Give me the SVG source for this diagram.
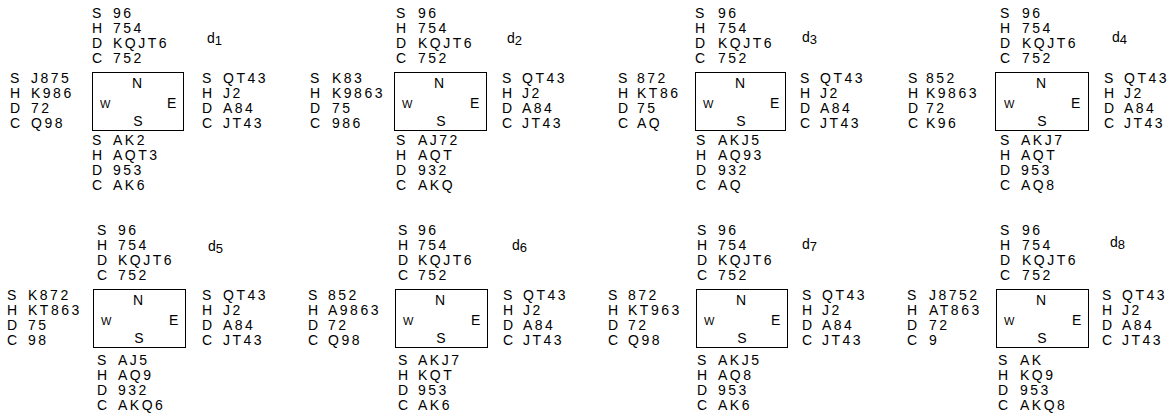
<svg xmlns="http://www.w3.org/2000/svg" width="1172" height="417" viewBox="0 0 1172 417">
<style>
.t{font-family:"Liberation Sans",Arial,sans-serif;font-size:14px;letter-spacing:2.5px;fill:#000}
.b{fill:none;stroke:#000;stroke-width:1}
.n{font-family:"Liberation Sans",Arial,sans-serif;font-size:14px;fill:#000;text-anchor:middle}
.w{font-family:"Liberation Sans",Arial,sans-serif;font-size:11px;fill:#000}
.e{font-family:"Liberation Sans",Arial,sans-serif;font-size:14px;fill:#000}
.l{font-family:"Liberation Sans",Arial,sans-serif;font-size:14px;fill:#000}
.s{font-size:13px}
</style>
<rect width="1172" height="417" fill="#fff"/>

<!-- d1 -->
<g id="d1">
<g id="d1-north" class="t">
<text y="18"><tspan x="92">S</tspan><tspan x="113">96</tspan></text>
<text y="33"><tspan x="92">H</tspan><tspan x="113">754</tspan></text>
<text y="48"><tspan x="92">D</tspan><tspan x="113">KQJT6</tspan></text>
<text y="63"><tspan x="92">C</tspan><tspan x="113">752</tspan></text>
</g>
<g id="d1-west" class="t">
<text y="83"><tspan x="10">S</tspan><tspan x="31">J875</tspan></text>
<text y="98"><tspan x="10">H</tspan><tspan x="31">K986</tspan></text>
<text y="113"><tspan x="10">D</tspan><tspan x="31">72</tspan></text>
<text y="128"><tspan x="10">C</tspan><tspan x="31">Q98</tspan></text>
</g>
<g id="d1-east" class="t">
<text y="83"><tspan x="202">S</tspan><tspan x="223">QT43</tspan></text>
<text y="98"><tspan x="202">H</tspan><tspan x="223">J2</tspan></text>
<text y="113"><tspan x="202">D</tspan><tspan x="223">A84</tspan></text>
<text y="128"><tspan x="202">C</tspan><tspan x="223">JT43</tspan></text>
</g>
<g id="d1-south" class="t">
<text y="145"><tspan x="92">S</tspan><tspan x="113">AK2</tspan></text>
<text y="160"><tspan x="92">H</tspan><tspan x="113">AQT3</tspan></text>
<text y="175"><tspan x="92">D</tspan><tspan x="113">953</tspan></text>
<text y="190"><tspan x="92">C</tspan><tspan x="113">AK6</tspan></text>
</g>
<g id="d1-table">
<rect class="b" x="92.5" y="72.5" width="91" height="58"/>
<text class="n" x="137" y="88">N</text>
<text class="n" x="138" y="126">S</text>
<text class="w" x="100" y="108">W</text>
<text class="e" x="167" y="108">E</text>
</g>
<text id="d1-label" class="l" x="207" y="43">d<tspan class="s" dy="2">1</tspan></text>
</g>

<!-- d2 -->
<g id="d2">
<g id="d2-north" class="t">
<text y="18"><tspan x="396">S</tspan><tspan x="418">96</tspan></text>
<text y="33"><tspan x="396">H</tspan><tspan x="418">754</tspan></text>
<text y="48"><tspan x="396">D</tspan><tspan x="418">KQJT6</tspan></text>
<text y="63"><tspan x="396">C</tspan><tspan x="418">752</tspan></text>
</g>
<g id="d2-west" class="t">
<text y="83"><tspan x="310">S</tspan><tspan x="332">K83</tspan></text>
<text y="98"><tspan x="310">H</tspan><tspan x="332">K9863</tspan></text>
<text y="113"><tspan x="310">D</tspan><tspan x="332">75</tspan></text>
<text y="128"><tspan x="310">C</tspan><tspan x="332">986</tspan></text>
</g>
<g id="d2-east" class="t">
<text y="83"><tspan x="502">S</tspan><tspan x="522">QT43</tspan></text>
<text y="98"><tspan x="502">H</tspan><tspan x="522">J2</tspan></text>
<text y="113"><tspan x="502">D</tspan><tspan x="522">A84</tspan></text>
<text y="128"><tspan x="502">C</tspan><tspan x="522">JT43</tspan></text>
</g>
<g id="d2-south" class="t">
<text y="145"><tspan x="396">S</tspan><tspan x="418">AJ72</tspan></text>
<text y="160"><tspan x="396">H</tspan><tspan x="418">AQT</tspan></text>
<text y="175"><tspan x="396">D</tspan><tspan x="418">932</tspan></text>
<text y="190"><tspan x="396">C</tspan><tspan x="418">AKQ</tspan></text>
</g>
<g id="d2-table">
<rect class="b" x="394.5" y="72.5" width="92" height="58"/>
<text class="n" x="439" y="88">N</text>
<text class="n" x="441" y="126">S</text>
<text class="w" x="402" y="108">W</text>
<text class="e" x="470" y="108">E</text>
</g>
<text id="d2-label" class="l" x="507" y="43">d<tspan class="s" dy="2">2</tspan></text>
</g>

<!-- d3 -->
<g id="d3">
<g id="d3-north" class="t">
<text y="18"><tspan x="695">S</tspan><tspan x="718">96</tspan></text>
<text y="33"><tspan x="695">H</tspan><tspan x="718">754</tspan></text>
<text y="48"><tspan x="695">D</tspan><tspan x="718">KQJT6</tspan></text>
<text y="63"><tspan x="695">C</tspan><tspan x="718">752</tspan></text>
</g>
<g id="d3-west" class="t">
<text y="83"><tspan x="618">S</tspan><tspan x="637">872</tspan></text>
<text y="98"><tspan x="618">H</tspan><tspan x="637">KT86</tspan></text>
<text y="113"><tspan x="618">D</tspan><tspan x="637">75</tspan></text>
<text y="128"><tspan x="618">C</tspan><tspan x="637">AQ</tspan></text>
</g>
<g id="d3-east" class="t">
<text y="83"><tspan x="800">S</tspan><tspan x="820">QT43</tspan></text>
<text y="98"><tspan x="800">H</tspan><tspan x="820">J2</tspan></text>
<text y="113"><tspan x="800">D</tspan><tspan x="820">A84</tspan></text>
<text y="128"><tspan x="800">C</tspan><tspan x="820">JT43</tspan></text>
</g>
<g id="d3-south" class="t">
<text y="145"><tspan x="696">S</tspan><tspan x="718">AKJ5</tspan></text>
<text y="160"><tspan x="696">H</tspan><tspan x="718">AQ93</tspan></text>
<text y="175"><tspan x="696">D</tspan><tspan x="718">932</tspan></text>
<text y="190"><tspan x="696">C</tspan><tspan x="718">AQ</tspan></text>
</g>
<g id="d3-table">
<rect class="b" x="695.5" y="72.5" width="90" height="58"/>
<text class="n" x="740" y="88">N</text>
<text class="n" x="741" y="126">S</text>
<text class="w" x="703" y="108">W</text>
<text class="e" x="770" y="108">E</text>
</g>
<text id="d3-label" class="l" x="802" y="42">d<tspan class="s" dy="2">3</tspan></text>
</g>

<!-- d4 -->
<g id="d4">
<g id="d4-north" class="t">
<text y="18"><tspan x="1000">S</tspan><tspan x="1022">96</tspan></text>
<text y="33"><tspan x="1000">H</tspan><tspan x="1022">754</tspan></text>
<text y="48"><tspan x="1000">D</tspan><tspan x="1022">KQJT6</tspan></text>
<text y="63"><tspan x="1000">C</tspan><tspan x="1022">752</tspan></text>
</g>
<g id="d4-west" class="t">
<text y="83"><tspan x="908">S</tspan><tspan x="926">852</tspan></text>
<text y="98"><tspan x="908">H</tspan><tspan x="926">K9863</tspan></text>
<text y="113"><tspan x="908">D</tspan><tspan x="926">72</tspan></text>
<text y="128"><tspan x="908">C</tspan><tspan x="926">K96</tspan></text>
</g>
<g id="d4-east" class="t">
<text y="83"><tspan x="1104">S</tspan><tspan x="1124">QT43</tspan></text>
<text y="98"><tspan x="1104">H</tspan><tspan x="1124">J2</tspan></text>
<text y="113"><tspan x="1104">D</tspan><tspan x="1124">A84</tspan></text>
<text y="128"><tspan x="1104">C</tspan><tspan x="1124">JT43</tspan></text>
</g>
<g id="d4-south" class="t">
<text y="145"><tspan x="1000">S</tspan><tspan x="1021">AKJ7</tspan></text>
<text y="160"><tspan x="1000">H</tspan><tspan x="1021">AQT</tspan></text>
<text y="175"><tspan x="1000">D</tspan><tspan x="1021">953</tspan></text>
<text y="190"><tspan x="1000">C</tspan><tspan x="1021">AQ8</tspan></text>
</g>
<g id="d4-table">
<rect class="b" x="995.5" y="72.5" width="93" height="58"/>
<text class="n" x="1041" y="88">N</text>
<text class="n" x="1042" y="126">S</text>
<text class="w" x="1004" y="108">W</text>
<text class="e" x="1071" y="108">E</text>
</g>
<text id="d4-label" class="l" x="1112" y="42">d<tspan class="s" dy="2">4</tspan></text>
</g>

<!-- d5 -->
<g id="d5">
<g id="d5-north" class="t">
<text y="235"><tspan x="97">S</tspan><tspan x="118">96</tspan></text>
<text y="250"><tspan x="97">H</tspan><tspan x="118">754</tspan></text>
<text y="265"><tspan x="97">D</tspan><tspan x="118">KQJT6</tspan></text>
<text y="280"><tspan x="97">C</tspan><tspan x="118">752</tspan></text>
</g>
<g id="d5-west" class="t">
<text y="300"><tspan x="7">S</tspan><tspan x="28">K872</tspan></text>
<text y="315"><tspan x="7">H</tspan><tspan x="28">KT863</tspan></text>
<text y="330"><tspan x="7">D</tspan><tspan x="28">75</tspan></text>
<text y="345"><tspan x="7">C</tspan><tspan x="28">98</tspan></text>
</g>
<g id="d5-east" class="t">
<text y="300"><tspan x="202">S</tspan><tspan x="223">QT43</tspan></text>
<text y="315"><tspan x="202">H</tspan><tspan x="223">J2</tspan></text>
<text y="330"><tspan x="202">D</tspan><tspan x="223">A84</tspan></text>
<text y="345"><tspan x="202">C</tspan><tspan x="223">JT43</tspan></text>
</g>
<g id="d5-south" class="t">
<text y="365"><tspan x="97">S</tspan><tspan x="118">AJ5</tspan></text>
<text y="380"><tspan x="97">H</tspan><tspan x="118">AQ9</tspan></text>
<text y="395"><tspan x="97">D</tspan><tspan x="118">932</tspan></text>
<text y="410"><tspan x="97">C</tspan><tspan x="118">AKQ6</tspan></text>
</g>
<g id="d5-table">
<rect class="b" x="93.5" y="289.5" width="92" height="58"/>
<text class="n" x="138" y="305">N</text>
<text class="n" x="139" y="343">S</text>
<text class="w" x="101" y="325">W</text>
<text class="e" x="169" y="325">E</text>
</g>
<text id="d5-label" class="l" x="208" y="251">d<tspan class="s" dy="2">5</tspan></text>
</g>

<!-- d6 -->
<g id="d6">
<g id="d6-north" class="t">
<text y="235"><tspan x="398">S</tspan><tspan x="418">96</tspan></text>
<text y="250"><tspan x="398">H</tspan><tspan x="418">754</tspan></text>
<text y="265"><tspan x="398">D</tspan><tspan x="418">KQJT6</tspan></text>
<text y="280"><tspan x="398">C</tspan><tspan x="418">752</tspan></text>
</g>
<g id="d6-west" class="t">
<text y="300"><tspan x="308">S</tspan><tspan x="328">852</tspan></text>
<text y="315"><tspan x="308">H</tspan><tspan x="328">A9863</tspan></text>
<text y="330"><tspan x="308">D</tspan><tspan x="328">72</tspan></text>
<text y="345"><tspan x="308">C</tspan><tspan x="328">Q98</tspan></text>
</g>
<g id="d6-east" class="t">
<text y="300"><tspan x="503">S</tspan><tspan x="523">QT43</tspan></text>
<text y="315"><tspan x="503">H</tspan><tspan x="523">J2</tspan></text>
<text y="330"><tspan x="503">D</tspan><tspan x="523">A84</tspan></text>
<text y="345"><tspan x="503">C</tspan><tspan x="523">JT43</tspan></text>
</g>
<g id="d6-south" class="t">
<text y="365"><tspan x="398">S</tspan><tspan x="418">AKJ7</tspan></text>
<text y="380"><tspan x="398">H</tspan><tspan x="418">KQT</tspan></text>
<text y="395"><tspan x="398">D</tspan><tspan x="418">953</tspan></text>
<text y="410"><tspan x="398">C</tspan><tspan x="418">AK6</tspan></text>
</g>
<g id="d6-table">
<rect class="b" x="395.5" y="289.5" width="92" height="58"/>
<text class="n" x="440" y="305">N</text>
<text class="n" x="441" y="343">S</text>
<text class="w" x="403" y="325">W</text>
<text class="e" x="471" y="325">E</text>
</g>
<text id="d6-label" class="l" x="512" y="250">d<tspan class="s" dy="2">6</tspan></text>
</g>

<!-- d7 -->
<g id="d7">
<g id="d7-north" class="t">
<text y="235"><tspan x="697">S</tspan><tspan x="718">96</tspan></text>
<text y="250"><tspan x="697">H</tspan><tspan x="718">754</tspan></text>
<text y="265"><tspan x="697">D</tspan><tspan x="718">KQJT6</tspan></text>
<text y="280"><tspan x="697">C</tspan><tspan x="718">752</tspan></text>
</g>
<g id="d7-west" class="t">
<text y="300"><tspan x="608">S</tspan><tspan x="628">872</tspan></text>
<text y="315"><tspan x="608">H</tspan><tspan x="628">KT963</tspan></text>
<text y="330"><tspan x="608">D</tspan><tspan x="628">72</tspan></text>
<text y="345"><tspan x="608">C</tspan><tspan x="628">Q98</tspan></text>
</g>
<g id="d7-east" class="t">
<text y="300"><tspan x="802">S</tspan><tspan x="822">QT43</tspan></text>
<text y="315"><tspan x="802">H</tspan><tspan x="822">J2</tspan></text>
<text y="330"><tspan x="802">D</tspan><tspan x="822">A84</tspan></text>
<text y="345"><tspan x="802">C</tspan><tspan x="822">JT43</tspan></text>
</g>
<g id="d7-south" class="t">
<text y="365"><tspan x="697">S</tspan><tspan x="718">AKJ5</tspan></text>
<text y="380"><tspan x="697">H</tspan><tspan x="718">AQ8</tspan></text>
<text y="395"><tspan x="697">D</tspan><tspan x="718">953</tspan></text>
<text y="410"><tspan x="697">C</tspan><tspan x="718">AK6</tspan></text>
</g>
<g id="d7-table">
<rect class="b" x="696.5" y="289.5" width="91" height="58"/>
<text class="n" x="741" y="305">N</text>
<text class="n" x="742" y="343">S</text>
<text class="w" x="704" y="325">W</text>
<text class="e" x="771" y="325">E</text>
</g>
<text id="d7-label" class="l" x="802" y="249">d<tspan class="s" dy="2">7</tspan></text>
</g>

<!-- d8 -->
<g id="d8">
<g id="d8-north" class="t">
<text y="235"><tspan x="1000">S</tspan><tspan x="1022">96</tspan></text>
<text y="250"><tspan x="1000">H</tspan><tspan x="1022">754</tspan></text>
<text y="265"><tspan x="1000">D</tspan><tspan x="1022">KQJT6</tspan></text>
<text y="280"><tspan x="1000">C</tspan><tspan x="1022">752</tspan></text>
</g>
<g id="d8-west" class="t">
<text y="300"><tspan x="907">S</tspan><tspan x="929">J8752</tspan></text>
<text y="315"><tspan x="907">H</tspan><tspan x="929">AT863</tspan></text>
<text y="330"><tspan x="907">D</tspan><tspan x="929">72</tspan></text>
<text y="345"><tspan x="907">C</tspan><tspan x="929">9</tspan></text>
</g>
<g id="d8-east" class="t">
<text y="300"><tspan x="1102">S</tspan><tspan x="1122">QT43</tspan></text>
<text y="315"><tspan x="1102">H</tspan><tspan x="1122">J2</tspan></text>
<text y="330"><tspan x="1102">D</tspan><tspan x="1122">A84</tspan></text>
<text y="345"><tspan x="1102">C</tspan><tspan x="1122">JT43</tspan></text>
</g>
<g id="d8-south" class="t">
<text y="365"><tspan x="998">S</tspan><tspan x="1020">AK</tspan></text>
<text y="380"><tspan x="998">H</tspan><tspan x="1020">KQ9</tspan></text>
<text y="395"><tspan x="998">D</tspan><tspan x="1020">953</tspan></text>
<text y="410"><tspan x="998">C</tspan><tspan x="1020">AKQ8</tspan></text>
</g>
<g id="d8-table">
<rect class="b" x="996.5" y="289.5" width="92" height="58"/>
<text class="n" x="1041" y="305">N</text>
<text class="n" x="1042" y="343">S</text>
<text class="w" x="1004" y="325">W</text>
<text class="e" x="1072" y="325">E</text>
</g>
<text id="d8-label" class="l" x="1110" y="247">d<tspan class="s" dy="2">8</tspan></text>
</g>
</svg>
